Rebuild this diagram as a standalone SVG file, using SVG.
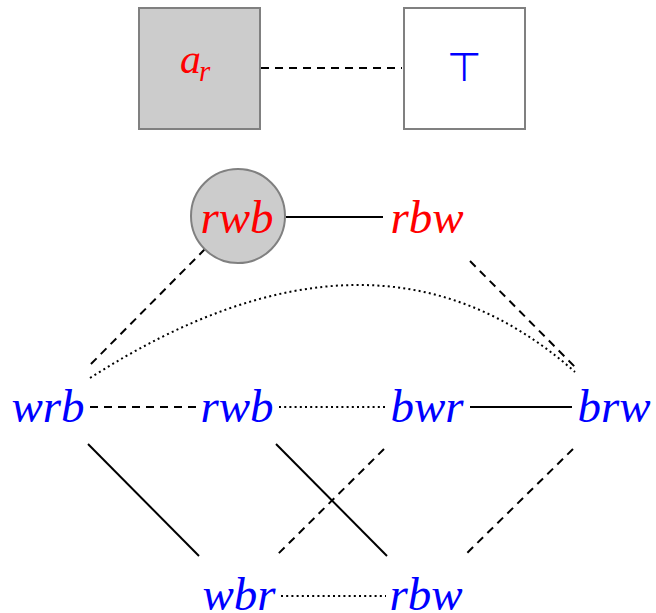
<svg xmlns="http://www.w3.org/2000/svg" width="656" height="613" viewBox="0 0 656 613">
  <style>
    .lbl { font-family: "Liberation Serif", "Times New Roman", serif; font-style: italic; font-size: 47px; text-anchor: middle; }
    .red { fill: #ff0000; }
    .blue { fill: #0000ff; }
    .box { stroke: #808080; stroke-width: 2; }
    .edge { fill: none; stroke: #000; stroke-width: 2; }
    .dash { stroke-dasharray: 8 6; }
    .dot { stroke-width: 2; stroke-dasharray: 2 3.2; }
  </style>
  <rect width="656" height="613" fill="#fff"/>

  <g id="connectors">
    <line class="edge dash" x1="261" y1="68" x2="402" y2="68"/>
    <line class="edge" x1="286" y1="217" x2="383" y2="217"/>
    <line class="edge dash" x1="205" y1="249" x2="87" y2="368"/>
    <line class="edge dash" x1="470" y1="261" x2="576" y2="368"/>
    <path class="edge dot" d="M90,378 Q376,195 575,372"/>
    <line class="edge dash" x1="90" y1="407" x2="198" y2="407"/>
    <line class="edge dot" x1="279" y1="407" x2="386" y2="407"/>
    <line class="edge" x1="470" y1="407" x2="572" y2="407"/>
    <line class="edge" x1="88" y1="444" x2="199" y2="556"/>
    <line class="edge" x1="276" y1="444" x2="387" y2="556"/>
    <line class="edge dash" x1="384" y1="449" x2="276" y2="556"/>
    <line class="edge dash" x1="573" y1="449" x2="464" y2="556"/>
    <line class="edge dot" x1="281" y1="596" x2="386" y2="596"/>
  </g>

  <g id="node-ar">
    <rect class="box" x="139" y="8" width="121" height="121" fill="#cccccc"/>
    <text x="180" y="73" font-family="Liberation Serif, serif" font-style="italic" font-size="42" fill="#ff0000">a</text>
    <text x="199" y="81" font-family="Liberation Serif, serif" font-style="italic" font-size="29" fill="#ff0000">r</text>
  </g>

  <g id="node-top">
    <rect class="box" x="404" y="8" width="121" height="121" fill="#ffffff"/>
    <text x="464.5" y="81" font-family="DejaVu Sans, sans-serif" font-size="40" fill="#0000ff" text-anchor="middle">⊤</text>
  </g>

  <g id="node-rwb-top">
    <circle cx="238" cy="216" r="47" fill="#cccccc" stroke="#808080" stroke-width="2"/>
    <text class="lbl red" x="237" y="233">rwb</text>
  </g>
  <g id="node-rbw-top">
    <text class="lbl red" x="427" y="233">rbw</text>
  </g>

  <g id="node-wrb"><text class="lbl blue" x="48" y="422">wrb</text></g>
  <g id="node-rwb"><text class="lbl blue" x="237" y="422">rwb</text></g>
  <g id="node-bwr"><text class="lbl blue" x="427" y="422">bwr</text></g>
  <g id="node-brw"><text class="lbl blue" x="614" y="422">brw</text></g>

  <g id="node-wbr"><text class="lbl blue" x="239" y="610">wbr</text></g>
  <g id="node-rbw"><text class="lbl blue" x="426" y="610">rbw</text></g>
</svg>
